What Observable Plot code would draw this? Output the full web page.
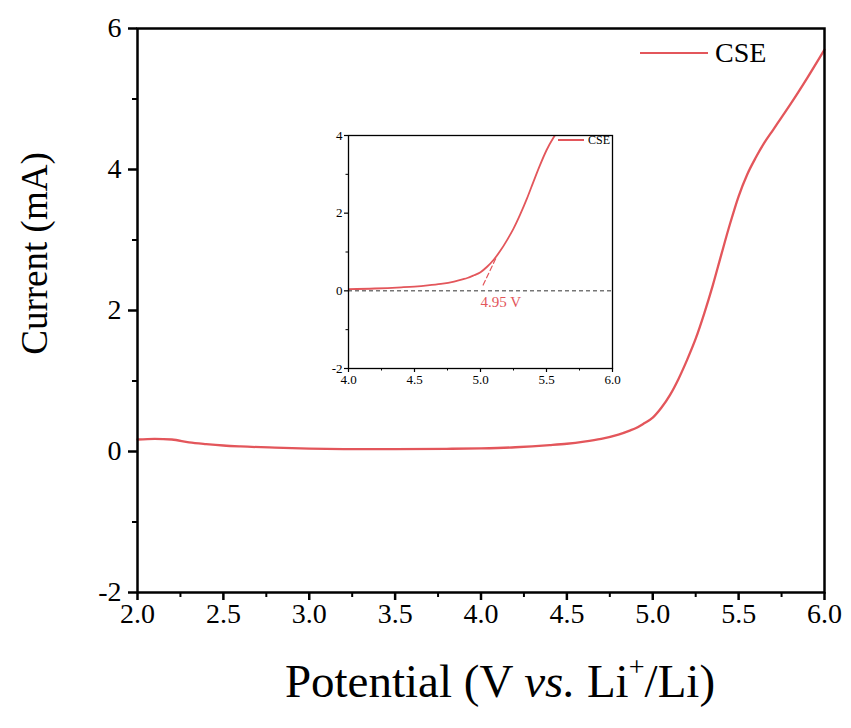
<!DOCTYPE html>
<html>
<head>
<meta charset="utf-8">
<script src="https://cdn.jsdelivr.net/npm/d3@7"></script>
<script src="https://cdn.jsdelivr.net/npm/@observablehq/plot@0.6"></script>
<style>
  html, body { margin: 0; padding: 0; background: #fff; }
  #wrap { position: relative; width: 851px; height: 728px; font-family: "Liberation Serif", "Times New Roman", serif; color: #000; }
  #wrap svg { position: absolute; overflow: visible; }
  .legend { position: absolute; display: flex; align-items: center; white-space: nowrap; }
  #xtitle { position: absolute; left: 0; width: 1000px; text-align: center; font-size: 47px; line-height: 50px; white-space: nowrap; }
  #xtitle sup { font-size: 0.6em; vertical-align: 0; position: relative; top: -0.75em; }
</style>
</head>
<body>
<div id="wrap"></div>
<script>
// ---- data ----
const potential = [2.0, 2.1, 2.2, 2.3, 2.4, 2.5, 2.6, 2.8, 3.0, 3.2, 3.5, 3.8, 4.0, 4.2, 4.4, 4.5, 4.6, 4.7, 4.8, 4.87, 4.9, 4.95, 5.0, 5.05, 5.1, 5.15, 5.2, 5.25, 5.3, 5.35, 5.4, 5.45, 5.5, 5.55, 5.6, 5.65, 5.7, 5.75, 5.8, 5.9, 6.0];
const current = [0.17, 0.18, 0.17, 0.13, 0.105, 0.085, 0.072, 0.055, 0.042, 0.035, 0.033, 0.038, 0.045, 0.06, 0.09, 0.11, 0.14, 0.18, 0.24, 0.30, 0.33, 0.40, 0.48, 0.62, 0.80, 1.03, 1.30, 1.60, 1.96, 2.36, 2.80, 3.23, 3.62, 3.93, 4.17, 4.38, 4.56, 4.74, 4.92, 5.30, 5.70];
const seriesName = "CSE";
const tangentX = [5.02, 5.12];
const tangentY = [0.15, 0.86];
const onsetLabel = "4.95 V";
const onsetX = [5.0];
const onsetY = [-0.28];

const xMajor = [2.0, 2.5, 3.0, 3.5, 4.0, 4.5, 5.0, 5.5, 6.0];
const xMinor = [2.25, 2.75, 3.25, 3.75, 4.25, 4.75, 5.25, 5.75];
const yMajor = [-2, 0, 2, 4, 6];
const yMinor = [-1, 1, 3, 5];
const insetXMajor = [4.0, 4.5, 5.0, 5.5, 6.0];
const insetXMinor = [4.25, 4.75, 5.25, 5.75];
const insetYMajor = [-2, 0, 2, 4];
const insetYMinor = [-1, 1, 3];

const red = "#e3565b";
const serif = "Liberation Serif";
const data = potential.map((v, i) => ({v, c: current[i]}));
const insetData = data.filter(d => d.v >= 3.9);
const tangent = tangentX.map((v, i) => ({v, c: tangentY[i]}));
const onset = onsetX.map((v, i) => ({v, c: onsetY[i], t: onsetLabel}));

const wrap = document.getElementById("wrap");

function fixFonts(svg, fallbackSize) {
  svg.querySelectorAll("text").forEach(t => {
    let el = t, fs = null;
    while (el && el !== svg.parentNode) {
      if (el.getAttribute && el.getAttribute("font-size")) { fs = el.getAttribute("font-size"); break; }
      el = el.parentNode;
    }
    t.style.fontFamily = '"Liberation Serif", "Times New Roman", serif';
    t.style.fontSize = (fs ? parseFloat(fs) : fallbackSize) + "px";
  });
}

// ---- main chart ----
const main = Plot.plot({
  width: 851, height: 640,
  marginLeft: 137, marginRight: 27, marginTop: 28, marginBottom: 48,
  x: {domain: [2, 6]},
  y: {domain: [-2, 6]},
  style: {fontFamily: serif, fontSize: "28px", color: "#000", background: "transparent"},
  marks: [
    Plot.axisX({ticks: xMajor, tickSize: 8, tickPadding: 3, tickFormat: d => d.toFixed(1), strokeWidth: 2.5, label: null, fontFamily: serif, fontSize: 28}),
    Plot.axisX({ticks: xMinor, tickSize: 5, tickFormat: () => "", strokeWidth: 2, label: null}),
    Plot.axisY({ticks: yMajor, tickSize: 9, tickPadding: 7, tickFormat: d => String(d), strokeWidth: 2.5, label: null, fontFamily: serif, fontSize: 28}),
    Plot.axisY({ticks: yMinor, tickSize: 5, tickFormat: () => "", strokeWidth: 2, label: null}),
    Plot.line(data, {x: "v", y: "c", stroke: red, strokeWidth: 2.3, curve: "monotone-x"}),
    Plot.frame({strokeWidth: 2.5, stroke: "#000"}),
    Plot.text(["Current (mA)"], {frameAnchor: "left", dx: -102, dy: -57, rotate: -90, fontSize: 37, fontFamily: serif, textAnchor: "middle", lineAnchor: "middle"})
  ]
});
main.style.left = "0px"; main.style.top = "0px";
fixFonts(main, 28);
wrap.appendChild(main);

// ---- inset chart ----
const inset = Plot.plot({
  width: 320, height: 280,
  marginLeft: 38, marginRight: 18, marginTop: 15, marginBottom: 32,
  x: {domain: [4, 6]},
  y: {domain: [-2, 4]},
  style: {fontFamily: serif, fontSize: "13px", color: "#000", background: "transparent"},
  marks: [
    Plot.axisX({ticks: insetXMajor, tickSize: 4, tickPadding: 2, tickFormat: d => d.toFixed(1), strokeWidth: 1.2, label: null, fontFamily: serif, fontSize: 13}),
    Plot.axisX({ticks: insetXMinor, tickSize: 2.5, tickFormat: () => "", strokeWidth: 1, label: null}),
    Plot.axisY({ticks: insetYMajor, tickSize: 4, tickPadding: 2, tickFormat: d => String(d), strokeWidth: 1.2, label: null, fontFamily: serif, fontSize: 13}),
    Plot.axisY({ticks: insetYMinor, tickSize: 2.5, tickFormat: () => "", strokeWidth: 1, label: null}),
    Plot.ruleY([0], {stroke: "#333", strokeWidth: 1, strokeDasharray: "4,3"}),
    Plot.line(insetData, {x: "v", y: "c", stroke: red, strokeWidth: 1.8, curve: "monotone-x", clip: true}),
    Plot.line(tangent, {x: "v", y: "c", stroke: red, strokeWidth: 1.2, strokeDasharray: "5,3"}),
    Plot.text(onset, {x: "v", y: "c", text: "t", fill: red, fontSize: 15, fontFamily: serif, textAnchor: "start", lineAnchor: "middle"}),
    Plot.frame({strokeWidth: 1.3, stroke: "#000"})
  ]
});
inset.style.left = "310px"; inset.style.top = "120px";
fixFonts(inset, 13);
wrap.appendChild(inset);

// ---- legends ----
function legend(left, cy, lineW, lineH, gap, fs) {
  const d = document.createElement("div");
  d.className = "legend";
  d.style.left = left + "px";
  d.style.top = (cy - fs * 0.6) + "px";
  d.style.height = (fs * 1.2) + "px";
  d.style.fontSize = fs + "px";
  const ln = document.createElement("span");
  ln.style.display = "inline-block";
  ln.style.width = lineW + "px";
  ln.style.height = lineH + "px";
  ln.style.background = red;
  ln.style.marginRight = gap + "px";
  const tx = document.createElement("span");
  tx.textContent = seriesName;
  d.appendChild(ln); d.appendChild(tx);
  wrap.appendChild(d);
}
legend(640, 53, 68, 2.5, 7, 28);
legend(558, 140, 26, 1.6, 4, 12);

// ---- x-axis title ----
const xt = document.createElement("div");
xt.id = "xtitle";
xt.style.left = "0px";
xt.style.top = "656px";
xt.innerHTML = "Potential (V <i>vs.</i> Li<sup>+</sup>/Li)";
wrap.appendChild(xt);

// force style/layout resolution so the serif font is used at first paint
wrap.querySelectorAll("text, div, span, i, sup").forEach(e => {
  void getComputedStyle(e).fontFamily;
  e.getBoundingClientRect();
});
</script>
</body>
</html>
